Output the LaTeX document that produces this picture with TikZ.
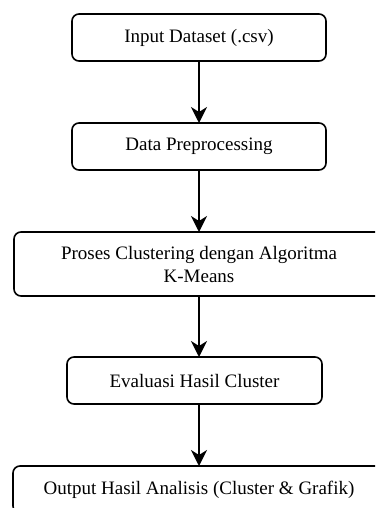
\documentclass[tikz,border=0pt]{standalone}
\usepackage{fontspec}
\setmainfont{Liberation Serif}
\usetikzlibrary{positioning, arrows.meta}

\begin{document}
\begin{tikzpicture}[
  x=1pt, y=1pt,
  >={Stealth[length=16pt, width=16pt, inset=5pt]},
  every node/.style={font=\fontsize{19}{23}\selectfont},
  proc/.style  = {draw, line width=1.6pt, rounded corners=7pt, align=center,
                  inner sep=0pt, outer sep=0pt, minimum height=47pt, minimum width=254pt},
  wide/.style  = {proc, minimum width=370pt},
  arr/.style   = {->, line width=1.6pt},
]
  \clip (0,0) rectangle (375,-508);
  % Vertical flow: dataset at top -> output at bottom.
  \node[proc] at (199,-37.5)                       (input)  {Input Dataset (.csv)};
  \node[proc, below=62pt of input]                  (prep)   {Data Preprocessing};
  \node[wide, minimum height=64pt, below=62pt of prep] (clust) {Proses Clustering dengan Algoritma\\K-Means};
  \node[proc, minimum width=255pt, below=61pt of clust, xshift=-4.5pt] (eval) {Evaluasi Hasil Cluster};
  \node[wide, minimum width=372pt, below=62pt of eval, xshift=4.5pt]  (output) {Output Hasil Analisis (Cluster \& Grafik)};
  \foreach \a/\b in {input/prep, prep/clust, clust/eval, eval/output}
     \draw[arr] (\a.south -| input.south) -- (\b.north -| input.south);
\end{tikzpicture}
\end{document}
